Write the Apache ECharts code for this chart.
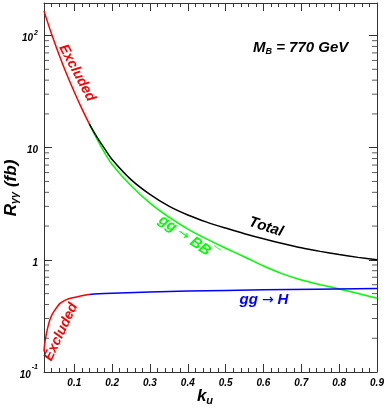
<!DOCTYPE html>
<html>
<head>
<meta charset="utf-8">
<script src="https://cdn.jsdelivr.net/npm/echarts@6/dist/echarts.min.js"></script>
<style>
  html, body { margin: 0; padding: 0; background: #fff; }
  #chart { width: 388px; height: 409px; }
</style>
</head>
<body>
<div id="chart"></div>
<script>
// values (k_u, R in fb)
var kExclTop = [0.02, 0.04, 0.06, 0.08, 0.10, 0.12, 0.14];
var vExclTop = [165, 103, 67.1, 45.1, 31.4, 22.3, 16.2];

var kTotal = [0.14, 0.16, 0.18, 0.20, 0.25, 0.30, 0.35, 0.40, 0.45, 0.50, 0.55, 0.60, 0.65, 0.70, 0.75, 0.80, 0.85, 0.90];
var vTotal = [16.2, 12.4, 9.8, 7.85, 5.19, 3.83, 3.01, 2.51, 2.17, 1.92, 1.71, 1.54, 1.40, 1.28, 1.19, 1.114, 1.052, 1.0];

var kBB = [0.14, 0.16, 0.18, 0.20, 0.25, 0.30, 0.35, 0.40, 0.45, 0.50, 0.55, 0.60, 0.65, 0.70, 0.75, 0.80, 0.85, 0.90];
var vBB = [16.2, 11.9, 9.02, 7.08, 4.57, 3.20, 2.40, 1.88, 1.53, 1.27, 1.06, 0.881, 0.750, 0.661, 0.600, 0.550, 0.501, 0.454];

var kExclH = [0.02, 0.0219, 0.0263, 0.0307, 0.0351, 0.0413, 0.0483, 0.0545, 0.0616, 0.0704, 0.0793, 0.0925, 0.1058, 0.1234, 0.1393];
var vExclH = [0.152, 0.179, 0.220, 0.255, 0.289, 0.325, 0.355, 0.380, 0.407, 0.427, 0.442, 0.456, 0.466, 0.480, 0.490];

var kH = [0.1393, 0.18, 0.30, 0.40, 0.60, 0.90];
var vH = [0.490, 0.500, 0.516, 0.527, 0.540, 0.554];

var xLabels = [0.1, 0.2, 0.3, 0.4, 0.5, 0.6, 0.7, 0.8, 0.9];
var yLabels = [0.1, 1, 10, 100];
var yMinor = [0.2, 0.3, 0.4, 0.5, 0.6, 0.7, 0.8, 0.9, 2, 3, 4, 5, 6, 7, 8, 9,
              20, 30, 40, 50, 60, 70, 80, 90];

function pairs(ks, vs) {
  return ks.map(function (k, i) { return [k, vs[i]]; });
}

var FONT = "Liberation Sans";
var AX = "#333";

var chart = echarts.init(document.getElementById("chart"));

function gridBox() {
  return { left: 44, right: 11, top: 3, bottom: 37 };
}

// major x: auto ticks land on 0.1 steps; minor x: every 0.02 from min
function xAxisOf(grid, pos, minor, labels) {
  var ax = {
    type: "value", gridIndex: grid, position: pos, min: 0.02, max: 0.9,
    axisLine: { show: !minor, onZero: false, lineStyle: { color: AX, width: 1 } },
    axisTick: { show: true, inside: true, length: minor ? 4 : 8, lineStyle: { color: AX } },
    axisLabel: labels ? {
      show: true, customValues: xLabels, margin: 6,
      fontFamily: FONT, fontWeight: "bold", fontStyle: "italic", fontSize: 10, color: "#000",
      formatter: function (v) { return v.toFixed(1); }
    } : { show: false },
    splitLine: { show: false }
  };
  if (minor) ax.interval = 0.02;
  else ax.splitNumber = 9;
  return ax;
}

function yAxisOf(grid, pos, minor, labels) {
  return {
    type: "log", logBase: 10, gridIndex: grid, position: pos, min: 0.1, max: 195,
    axisLine: { show: !minor, onZero: false, lineStyle: { color: AX, width: 1 } },
    axisTick: { show: !minor, inside: true, length: 8, lineStyle: { color: AX, width: 1 } },
    axisLabel: labels ? {
      show: true, customValues: yLabels, margin: 6,
      formatter: function (v) {
        if (v < 0.5) return "{b|10}{u|-1}";
        if (v < 5) return "{b|1}";
        if (v < 50) return "{b|10}";
        return "{b|10}{s|2}";
      },
      rich: {
        b: { fontFamily: FONT, fontWeight: "bold", fontStyle: "italic", fontSize: 10, color: "#000", lineHeight: 16, verticalAlign: "bottom" },
        s: { fontFamily: FONT, fontWeight: "bold", fontStyle: "italic", fontSize: 7, color: "#000", lineHeight: 16, verticalAlign: "top", padding: [2, 0, 0, 1] },
        u: { fontFamily: FONT, fontWeight: "bold", fontStyle: "italic", fontSize: 7, color: "#000", lineHeight: 16, verticalAlign: "top", padding: [0, 0, 0, 1] }
      }
    } : { show: false },
    splitLine: { show: false }
  };
}

var txt = { fontFamily: FONT, fontWeight: "bold", fontStyle: "italic" };
function rs(size, color) {
  return Object.assign({ fontSize: size, fill: color, color: color }, txt);
}
function arrow(size, color) {
  return { fontFamily: "DejaVu Sans", fontSize: size, fill: color, color: color, padding: [0, 4, 0, 4] };
}

function curve(name, ks, vs, color) {
  return { name: name, type: "line", data: pairs(ks, vs), smooth: 0.25,
    symbol: "none", lineStyle: { color: color, width: 1.5 } };
}

// minor log ticks on the left and right frame (short marks at 2..9 x 10^n)
function minorTicks(xEdge, dir) {
  return {
    type: "scatter", silent: true, clip: false, symbol: "rect", symbolSize: [5, 1],
    symbolOffset: [2.5 * dir, 0], itemStyle: { color: AX },
    data: yMinor.map(function (v) { return [xEdge, v]; }), z: 3
  };
}

var option = {
  animation: false,
  backgroundColor: "#fff",
  grid: [gridBox(), gridBox(), gridBox(), gridBox()],
  xAxis: [
    xAxisOf(0, "bottom", false, true),
    xAxisOf(1, "top", false, false),
    xAxisOf(2, "bottom", true, false),
    xAxisOf(3, "top", true, false)
  ],
  yAxis: [
    yAxisOf(0, "left", false, true),
    yAxisOf(1, "right", false, false),
    yAxisOf(2, "left", true, false),
    yAxisOf(3, "right", true, false)
  ],
  series: [
    minorTicks(0.02, 1),
    minorTicks(0.9, -1),
    curve("gg->BB", kBB, vBB, "#00ff00"),
    curve("Total", kTotal, vTotal, "#000000"),
    curve("Excluded top", kExclTop, vExclTop, "#ff0000"),
    curve("gg->H", kH, vH, "#0000ff"),
    curve("Excluded bottom", kExclH, vExclH, "#ff0000")
  ],
  graphic: [
    { type: "text", x: 11, y: 188, rotation: Math.PI / 2,
      style: { text: "{a|R}{s|γγ}{a| (fb)}", align: "center", verticalAlign: "middle",
        rich: { a: rs(17, "#000"), s: Object.assign(rs(11, "#000"), { padding: [8, 0, 0, 0] }) } } },
    { type: "text", x: 205, y: 396,
      style: { text: "{a|k}{s|u}", align: "center", verticalAlign: "middle",
        rich: { a: rs(17, "#000"), s: Object.assign(rs(11, "#000"), { padding: [9, 0, 0, 0] }) } } },
    { type: "text", x: 253, y: 48,
      style: { text: "{a|M}{s|B}{a| = 770 GeV}", align: "left", verticalAlign: "middle",
        rich: { a: rs(15, "#000"), s: Object.assign(rs(9, "#000"), { padding: [7, 0, 0, 0] }) } } },
    { type: "text", x: 77, y: 73, rotation: -62 * Math.PI / 180,
      style: Object.assign({ text: "Excluded", align: "center", verticalAlign: "middle" }, rs(14, "#ff0000")) },
    { type: "text", x: 61, y: 332, rotation: 65 * Math.PI / 180,
      style: Object.assign({ text: "Excluded", align: "center", verticalAlign: "middle" }, rs(14, "#ff0000")) },
    { type: "text", x: 266, y: 227, rotation: -18 * Math.PI / 180,
      style: Object.assign({ text: "Total", align: "center", verticalAlign: "middle" }, rs(15, "#000")) },
    { type: "text", x: 188, y: 238, rotation: -35 * Math.PI / 180,
      style: { text: "{a|gg}{r|→}{a|BB}{b|¯}", align: "center", verticalAlign: "middle",
        rich: { a: rs(15, "#00ff00"), r: arrow(14, "#00ff00"),
          b: Object.assign(rs(15, "#00ff00"), { padding: [0, 0, 4, 0] }) } } },
    { type: "text", x: 264, y: 300,
      style: { text: "{a|gg}{r|→}{a|H}", align: "center", verticalAlign: "middle",
        rich: { a: rs(15, "#0000ff"), r: arrow(14, "#0000ff") } } }
  ]
};

chart.setOption(option);
window.addEventListener("resize", function () {
  chart.resize();
});
</script>
</body>
</html>
